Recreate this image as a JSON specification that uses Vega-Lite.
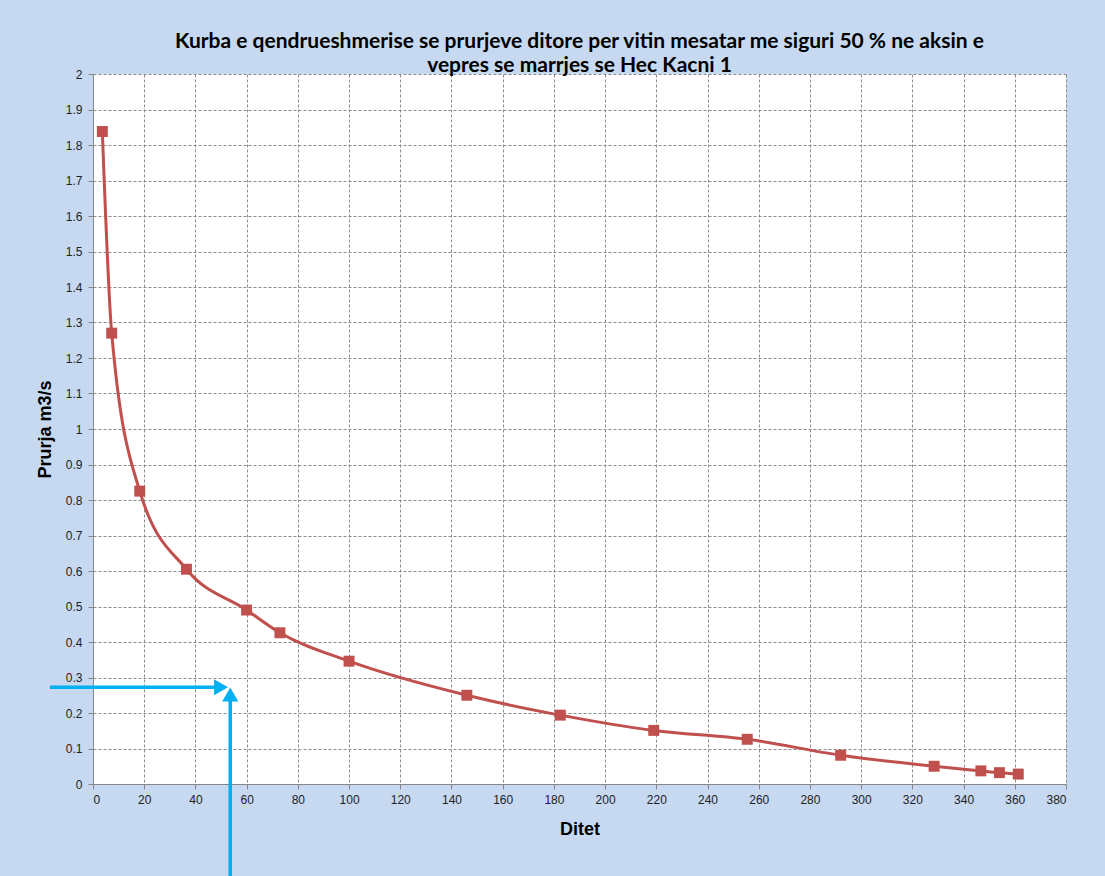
{
  "$schema": "https://vega.github.io/schema/vega-lite/v6.json",
  "width": 973,
  "height": 710,
  "autosize": {"type": "none"},
  "padding": {"left": 93, "top": 74, "right": 39, "bottom": 92},
  "background": "#C6D9F1",
  "config": {
    "view": {"fill": "white", "stroke": null},
    "axis": {
      "labelFont": "Liberation Sans",
      "labelFontSize": 12,
      "labelColor": "#222222",
      "labelOverlap": false,
      "titleFont": "Liberation Sans",
      "titleFontSize": 18,
      "titleFontWeight": "bold",
      "titleColor": "#000000",
      "domainColor": "#868686",
      "tickColor": "#868686",
      "tickSize": 5,
      "gridColor": "#8c8c8c",
      "gridDash": [3, 2],
      "gridOpacity": 1,
      "gridWidth": 1
    }
  },
  "title": {
    "text": ["Kurba e qendrueshmerise se prurjeve ditore per vitin mesatar me siguri 50 % ne aksin e", "vepres  se marrjes se Hec Kacni 1"],
    "font": "Lato",
    "fontSize": 21,
    "fontWeight": "bold",
    "color": "#000000",
    "anchor": "middle",
    "frame": "group",
    "offset": -8,
    "lineHeight": 24
  },
  "datasets": {
    "kurba": [
      {"ditet": 3.65, "prurja": 1.838},
      {"ditet": 7.3, "prurja": 1.27},
      {"ditet": 18.25, "prurja": 0.825},
      {"ditet": 36.5, "prurja": 0.605},
      {"ditet": 60, "prurja": 0.49},
      {"ditet": 73, "prurja": 0.426},
      {"ditet": 100, "prurja": 0.346},
      {"ditet": 146, "prurja": 0.25},
      {"ditet": 182.5, "prurja": 0.194},
      {"ditet": 219, "prurja": 0.151},
      {"ditet": 255.5, "prurja": 0.126},
      {"ditet": 292, "prurja": 0.081},
      {"ditet": 328.5, "prurja": 0.05},
      {"ditet": 346.75, "prurja": 0.037},
      {"ditet": 354, "prurja": 0.032},
      {"ditet": 361.35, "prurja": 0.028}
    ],
    "shigjeta": [
      {"x": -16.8, "x2": 47.5, "y": 0.2724, "y2": 0.2724},
      {"x": 53.6, "x2": 53.6, "y": -0.26, "y2": 0.245}
    ],
    "koka": [
      {"x": 50.0, "y": 0.2724, "forma": "triangle-right"},
      {"x": 53.6, "y": 0.252, "forma": "triangle-up"}
    ]
  },
  "encoding": {
    "y": {
      "type": "quantitative",
      "title": "Prurja m3/s",
      "scale": {"domain": [0, 2], "nice": false, "zero": false},
      "axis": {
        "values": [0, 0.1, 0.2, 0.3, 0.4, 0.5, 0.6, 0.7, 0.8, 0.9, 1, 1.1, 1.2, 1.3, 1.4, 1.5, 1.6, 1.7, 1.8, 1.9, 2],
        "tickCount": 40,
        "format": ".1~f",
        "labelPadding": 6,
        "titlePadding": 11
      }
    },
    "x": {
      "type": "quantitative",
      "title": "Ditet",
      "scale": {"domain": [0, 380], "nice": false, "zero": false},
      "axis": {
        "values": [0, 20, 40, 60, 80, 100, 120, 140, 160, 180, 200, 220, 240, 260, 280, 300, 320, 340, 360, 380],
        "tickCount": 40,
        "labelPadding": 5,
        "titlePadding": 15,
        "format": "d"
      }
    }
  },
  "layer": [
    {
      "data": {"name": "kurba"},
      "mark": {
        "type": "line",
        "interpolate": "monotone",
        "color": "#C0504D",
        "strokeWidth": 3,
        "point": {"shape": "square", "size": 120, "filled": true, "color": "#C0504D", "opacity": 1}
      },
      "encoding": {
        "x": {"field": "ditet", "type": "quantitative"},
        "y": {"field": "prurja", "type": "quantitative"}
      }
    },
    {
      "data": {"name": "shigjeta"},
      "mark": {"type": "rule", "color": "#00B0F0", "strokeWidth": 3.5},
      "encoding": {
        "x": {"field": "x", "type": "quantitative"},
        "x2": {"field": "x2"},
        "y": {"field": "y", "type": "quantitative"},
        "y2": {"field": "y2"}
      }
    },
    {
      "data": {"name": "koka"},
      "mark": {"type": "point", "filled": true, "color": "#00B0F0", "opacity": 1, "size": 260},
      "encoding": {
        "x": {"field": "x", "type": "quantitative"},
        "y": {"field": "y", "type": "quantitative"},
        "shape": {"field": "forma", "type": "nominal", "scale": null, "legend": null}
      }
    }
  ]
}
